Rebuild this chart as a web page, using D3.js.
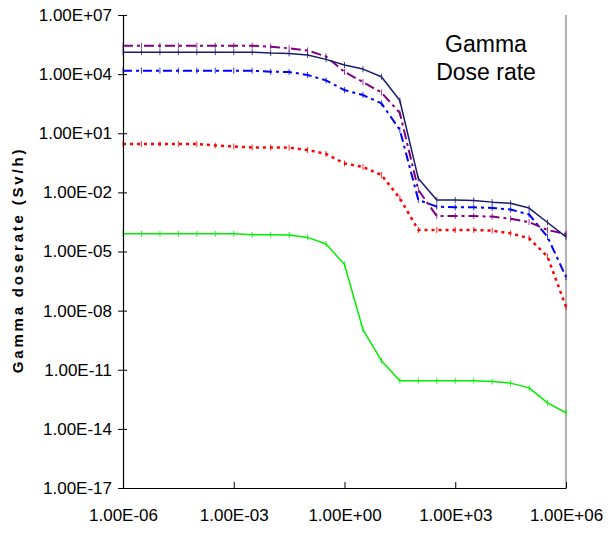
<!DOCTYPE html>
<html><head><meta charset="utf-8">
<script src="https://cdn.jsdelivr.net/npm/d3@7"></script>
<style>body{margin:0;background:#fff;} svg{display:block;font-family:"Liberation Sans",Arial,sans-serif;}</style>
</head><body>
<svg id="c" width="611" height="533"></svg>
<script>
const xValues = [1e-6,3.16e-6,1e-5,3.16e-5,1e-4,3.16e-4,1e-3,3.16e-3,1e-2,3.16e-2,1e-1,3.16e-1,1,3.16,10,31.6,100,316,1000,3160,1e4,3.16e4,1e5,3.16e5,1e6];
const navy = [1.3e5,1.3e5,1.3e5,1.3e5,1.3e5,1.3e5,1.3e5,1.3e5,1.17e5,1.12e5,9.3e4,5.6e4,2.9e4,1.8e4,7.4e3,4.6e2,5.0e-2,4.1e-3,4.1e-3,3.9e-3,3.2e-3,2.8e-3,1.6e-3,2.95e-4,5.5e-5];
const purple = [2.75e5,2.75e5,2.75e5,2.75e5,2.75e5,2.75e5,2.75e5,2.75e5,2.45e5,2.04e5,1.58e5,7.9e4,1.29e4,4.0e3,1.17e3,1.07e2,1.32e-2,6.3e-4,6.3e-4,6.3e-4,5.9e-4,4.6e-4,3.1e-4,1.23e-4,7.8e-5];
const blue = [1.5e4,1.5e4,1.5e4,1.5e4,1.5e4,1.5e4,1.5e4,1.5e4,1.32e4,1.29e4,9.1e3,4.8e3,1.55e3,8.7e2,3.3e2,1.48e1,4.1e-3,1.9e-3,1.74e-3,1.74e-3,1.62e-3,1.35e-3,7.6e-4,5.5e-5,5.1e-7];
const red = [2.85,2.85,2.85,2.85,2.85,2.4,2.14,1.9,1.9,1.86,1.41,0.89,0.295,0.195,7.6e-2,5.0e-3,1.23e-4,1.23e-4,1.23e-4,1.23e-4,1.15e-4,8.3e-5,4.7e-5,5.5e-6,1.55e-8];
const green = [7.9e-5,7.9e-5,7.9e-5,7.9e-5,7.9e-5,7.9e-5,7.9e-5,7.1e-5,7.1e-5,6.9e-5,5.2e-5,2.4e-5,2.2e-6,1.1e-9,2.9e-11,2.8e-12,2.8e-12,2.8e-12,2.8e-12,2.8e-12,2.5e-12,2.1e-12,1.2e-12,2.1e-13,6.6e-14];
const xTicks = [1e-6,1e-3,1,1e3,1e6];
const yTicks = [1e-17,1e-14,1e-11,1e-8,1e-5,1e-2,1e1,1e4,1e7];
const xTickLabels = ["1.00E-06","1.00E-03","1.00E+00","1.00E+03","1.00E+06"];
const yTickLabels = ["1.00E-17","1.00E-14","1.00E-11","1.00E-08","1.00E-05","1.00E-02","1.00E+01","1.00E+04","1.00E+07"];

const svg = d3.select("#c");
const L=123,R=566,T=15,B=488;
const x = d3.scaleLog().domain([1e-6,1e6]).range([L,R]);
const y = d3.scaleLog().domain([1e-17,1e7]).range([B,T]);

// right border
svg.append("line").attr("x1",R).attr("x2",R).attr("y1",T).attr("y2",B).attr("stroke","#999").attr("stroke-width",1.5);

const series = [
  {v:green, color:"#00ee00", w:1.5, dash:null},
  {v:red, color:"#ff0000", w:2.5, dash:"3,4"},
  {v:blue, color:"#0000ff", w:2, dash:"9,4,3,4"},
  {v:purple, color:"#800080", w:2, dash:"10,4,3,4"},
  {v:navy, color:"#1a1a70", w:1.5, dash:null}
];
const line = d3.line().x((d,i)=>x(xValues[i])).y(d=>y(d));
series.forEach(s=>{
  svg.append("path").datum(s.v).attr("d",line).attr("fill","none")
    .attr("stroke",s.color).attr("stroke-width",s.w)
    .attr("stroke-dasharray",s.dash).attr("stroke-linejoin","round");
  svg.append("g").selectAll("line").data(s.v).join("line")
    .attr("x1",(d,i)=>x(xValues[i])).attr("x2",(d,i)=>x(xValues[i]))
    .attr("y1",d=>y(d)-3).attr("y2",d=>y(d)+3)
    .attr("stroke",s.color).attr("stroke-width",1).attr("opacity",0.8);
});

// axes
const yAxis = d3.axisLeft(y).tickValues(yTicks).tickFormat((d,i)=>yTickLabels[i]).tickSizeOuter(0).tickSize(5).tickPadding(6);
const gy = svg.append("g").attr("transform",`translate(${L},0)`).call(yAxis);
gy.selectAll("text").attr("font-size",17).attr("fill","#000").attr("font-family","Liberation Sans, Arial, sans-serif");
gy.selectAll(".tick line").attr("x1",4).attr("x2",-5).attr("stroke","#000");
gy.select(".domain").attr("stroke","#000").attr("stroke-width",1.2);

const xAxis = d3.axisBottom(x).tickValues(xTicks).tickFormat((d,i)=>xTickLabels[i]).tickSizeOuter(0).tickSize(0).tickPadding(21);
const gx = svg.append("g").attr("transform",`translate(0,${B})`).call(xAxis);
gx.selectAll("text").attr("font-size",17).attr("fill","#000").attr("font-family","Liberation Sans, Arial, sans-serif");
gx.selectAll(".tick line").attr("y1",0).attr("y2",-6).attr("stroke","#000");
gx.select(".domain").attr("stroke","#000").attr("stroke-width",1.2);

// y title
svg.append("text").attr("transform","translate(23,260) rotate(-90)")
  .attr("text-anchor","middle").attr("font-size",15).attr("font-weight","bold")
  .attr("letter-spacing","2.8px").text("Gamma doserate (Sv/h)");

// annotation
const ann = svg.append("text").attr("text-anchor","middle").attr("font-size",23).attr("fill","#000");
ann.append("tspan").attr("x",486).attr("y",52).text("Gamma");
ann.append("tspan").attr("x",486).attr("y",80).text("Dose rate");
</script>
</body></html>
